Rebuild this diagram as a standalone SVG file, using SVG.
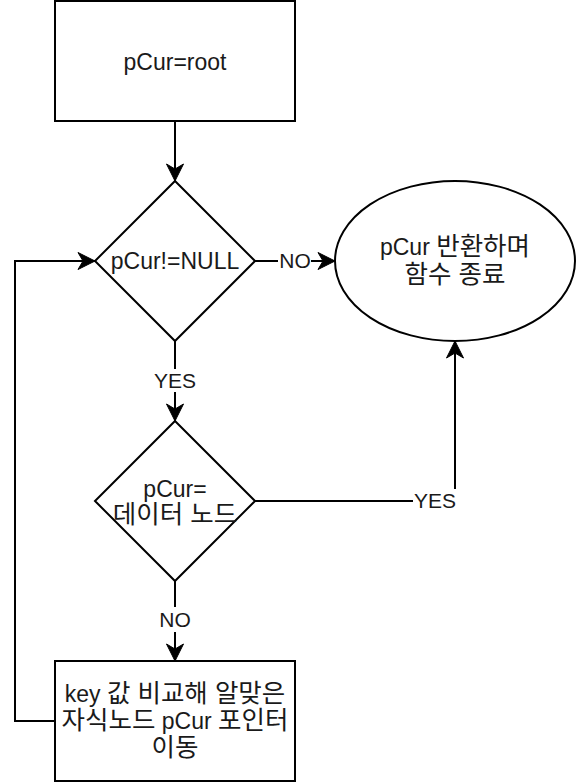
<svg xmlns="http://www.w3.org/2000/svg" width="576" height="784" viewBox="0 0 576 784">
<style>
.shape{fill:#fff;stroke:#000;stroke-width:2}
.edge{fill:none;stroke:#000;stroke-width:2}
.t{font-family:"Liberation Sans","Noto Sans CJK KR",Arial,sans-serif;font-size:23px;fill:#1a1a1a;text-anchor:middle}
.k{font-size:25.5px}
.lbl{font-family:"Liberation Sans","Noto Sans CJK KR",Arial,sans-serif;font-size:21px;fill:#1a1a1a;text-anchor:middle}
.bg{fill:#fff;stroke:none}
</style>
<defs>
<marker id="arr" viewBox="-18 -9 19 18" refX="0" refY="0" markerWidth="19" markerHeight="18" orient="auto" markerUnits="userSpaceOnUse">
<path d="M0,0 L-17,-8.5 L-12,0 L-17,8.5 Z" fill="#000" stroke="#000" stroke-width="1"/>
</marker>
</defs>
<g id="connectors">
<path class="edge" d="M175,121 L175,181" marker-end="url(#arr)"/>
<path class="edge" d="M255,261 L335,261" marker-end="url(#arr)"/>
<path class="edge" d="M175,341 L175,421" marker-end="url(#arr)"/>
<path class="edge" d="M255,501 L455,501 L455,341" marker-end="url(#arr)"/>
<path class="edge" d="M175,581 L175,661" marker-end="url(#arr)"/>
<path class="edge" d="M55,721 L15,721 L15,261 L95,261" marker-end="url(#arr)"/>
<rect class="bg" x="278" y="250" width="33" height="22"/>
<text class="lbl" x="295" y="268">NO</text>
<rect class="bg" x="153" y="369" width="44" height="23"/>
<text class="lbl" x="175" y="388">YES</text>
<rect class="bg" x="413" y="489" width="44" height="23"/>
<text class="lbl" x="435" y="508">YES</text>
<rect class="bg" x="158" y="607" width="34" height="25"/>
<text class="lbl" x="175" y="627">NO</text>
</g>
<g id="node-root">
<rect class="shape" x="55" y="1" width="240" height="120"/>
<text class="t" x="175" y="70">pCur=root</text>
</g>
<g id="node-check-null">
<path class="shape" d="M175,181 L255,261 L175,341 L95,261 Z"/>
<text class="t" x="175" y="269">pCur!=NULL</text>
</g>
<g id="node-return">
<ellipse class="shape" cx="455" cy="261" rx="120" ry="80"/>
<text class="t" x="455" y="255">pCur <tspan class="k">반환하며</tspan></text>
<text class="t k" x="455" y="283">함수 종료</text>
</g>
<g id="node-check-data">
<path class="shape" d="M175,421 L255,501 L175,581 L95,501 Z"/>
<text class="t" x="175" y="497">pCur=</text>
<text class="t k" x="175" y="523">데이터 노드</text>
</g>
<g id="node-move">
<rect class="shape" x="55" y="661" width="240" height="120"/>
<text class="t" x="175" y="702">key <tspan class="k">값 비교해 알맞은</tspan></text>
<text class="t" x="175" y="729"><tspan class="k">자식노드</tspan> pCur <tspan class="k">포인터</tspan></text>
<text class="t k" x="175" y="756">이동</text>
</g>
</svg>
